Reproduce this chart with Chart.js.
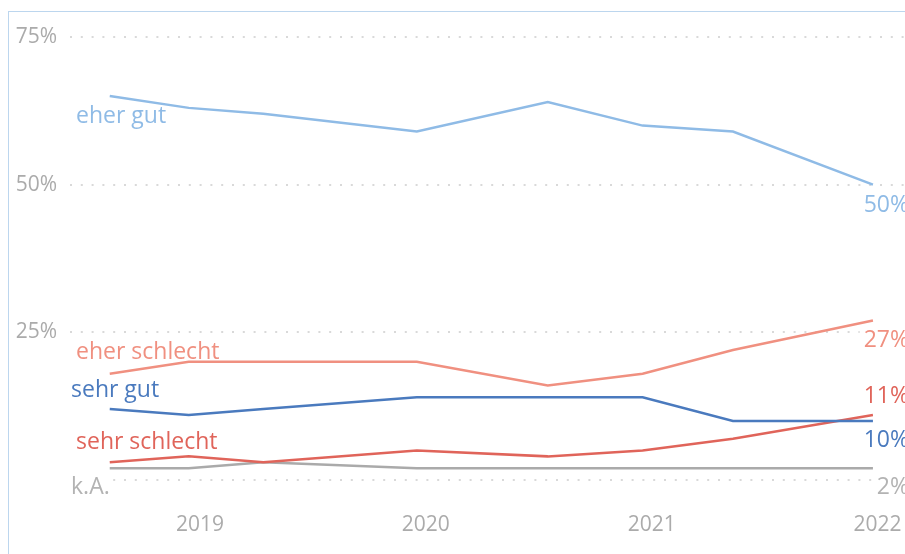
<!DOCTYPE html>
<html><head><meta charset="utf-8">
<script src="https://cdn.jsdelivr.net/npm/chart.js@4.4.0/dist/chart.umd.min.js"></script>
<style>
html,body{margin:0;padding:0;background:#fff;overflow:hidden;}
#wrap{position:relative;width:905px;height:554px;overflow:hidden;}
#frame{position:absolute;left:8px;top:11px;width:1000px;height:1000px;border-left:1px solid #bcd6ee;border-top:1px solid #bcd6ee;pointer-events:none;}
canvas{position:absolute;left:0;top:0;}
</style></head><body>
<div id="wrap"><canvas id="c" width="905" height="554"></canvas><div id="frame"></div></div>
<script>
// survey dates as decimal years
const surveyDates = [2018.6, 2018.95, 2019.28, 2019.96, 2020.54, 2020.96, 2021.36, 2021.98];
const seriesNames = ['eher gut', 'eher schlecht', 'sehr gut', 'sehr schlecht', 'k.A.'];
const eherGut      = [65, 63, 62, 59, 64, 60, 59, 50];
const eherSchlecht = [18, 20, 20, 20, 16, 18, 22, 27];
const sehrGut      = [12, 11, 12, 14, 14, 14, 10, 10];
const sehrSchlecht = [3, 4, 3, 5, 4, 5, 7, 11];
const keineAngabe  = [2, 2, 3, 2, 2, 2, 2, 2];
const yTicks = [0, 25, 50, 75];
const xTicks = [2019, 2020, 2021, 2022];

const allSeries = [eherGut, eherSchlecht, sehrGut, sehrSchlecht, keineAngabe];
const colors = ['#8fbbe6', '#f09080', '#4a7abe', '#e0645a', '#aaaaaa'];
const labelColors = ['#8fbbe6', '#f09080', '#4a7abe', '#e0645a', '#b3b3b3'];
const FONT = "'Open Sans', 'Noto Sans', sans-serif";

// label placement (styling, not data)
const leftLabelX = [76, 76, 71, 76, 71];
const leftLabelDy = [20, -21, -19, -20, 19];
const rightLabelDy = [21, 20, 20, -19, 19];
const rightLabelX = 909;

const labelPlugin = {
  id: 'endLabels',
  beforeDatasetsDraw(chart) {
    const ctx = chart.ctx;
    ctx.save();
    ctx.font = '23px ' + FONT;
    ctx.textBaseline = 'middle';
    chart.data.datasets.forEach((ds, i) => {
      const meta = chart.getDatasetMeta(i);
      const first = meta.data[0], last = meta.data[meta.data.length - 1];
      let t = seriesNames[i];
      let w = ctx.measureText(t).width;
      let y = first.y + leftLabelDy[i];
      ctx.fillStyle = '#fff';
      ctx.fillRect(leftLabelX[i] - 3, y - 11, w + 6, 22);
      ctx.fillStyle = labelColors[i];
      ctx.textAlign = 'left';
      ctx.fillText(t, leftLabelX[i], y);
      t = ds.data[ds.data.length - 1].y + '%';
      w = ctx.measureText(t).width;
      y = last.y + rightLabelDy[i];
      ctx.fillStyle = '#fff';
      ctx.fillRect(rightLabelX - w - 4, y - 11, w + 8, 22);
      ctx.fillStyle = labelColors[i];
      ctx.textAlign = 'right';
      ctx.fillText(t, rightLabelX, y);
    });
    ctx.restore();
  }
};

new Chart(document.getElementById('c'), {
  type: 'line',
  data: {
    datasets: allSeries.map((vals, i) => ({
      label: seriesNames[i],
      data: vals.map((v, k) => ({ x: surveyDates[k], y: v })),
      borderColor: colors[i],
      backgroundColor: colors[i],
      borderWidth: 2.5,
      pointRadius: 0,
      tension: 0,
      fill: false
    }))
  },
  options: {
    responsive: false,
    animation: false,
    devicePixelRatio: 1,
    layout: { padding: { top: 37, left: 0, right: 0, bottom: 16.8 } },
    plugins: { legend: { display: false }, tooltip: { enabled: false } },
    scales: {
      x: {
        type: 'linear',
        min: 2018.424,
        max: 2022.122,
        grid: { display: false, drawTicks: false, tickLength: 0 },
        border: { display: false },
        afterBuildTicks: s => { s.ticks = xTicks.map(v => ({ value: v })); },
        afterFit: s => { s.height = 57.2; s.paddingLeft = 0; s.paddingRight = 0; },
        ticks: {
          padding: 32, color: '#ababab', maxRotation: 0, minRotation: 0, autoSkip: false,
          font: { family: FONT, size: 21 },
          callback: v => String(v)
        }
      },
      y: {
        min: 0,
        max: 75,
        afterBuildTicks: s => { s.ticks = yTicks.map(v => ({ value: v })); },
        afterFit: s => { s.width = 70; },
        grid: { color: '#d9d9d9', lineWidth: 2, drawTicks: false, tickLength: 0 },
        border: { display: false, dash: [2, 8.8] },
        ticks: {
          padding: 13, color: '#ababab',
          font: { family: FONT, size: 21 },
          callback: v => v === 0 ? '' : v + '%'
        }
      }
    }
  },
  plugins: [labelPlugin]
});
</script>
</body></html>
